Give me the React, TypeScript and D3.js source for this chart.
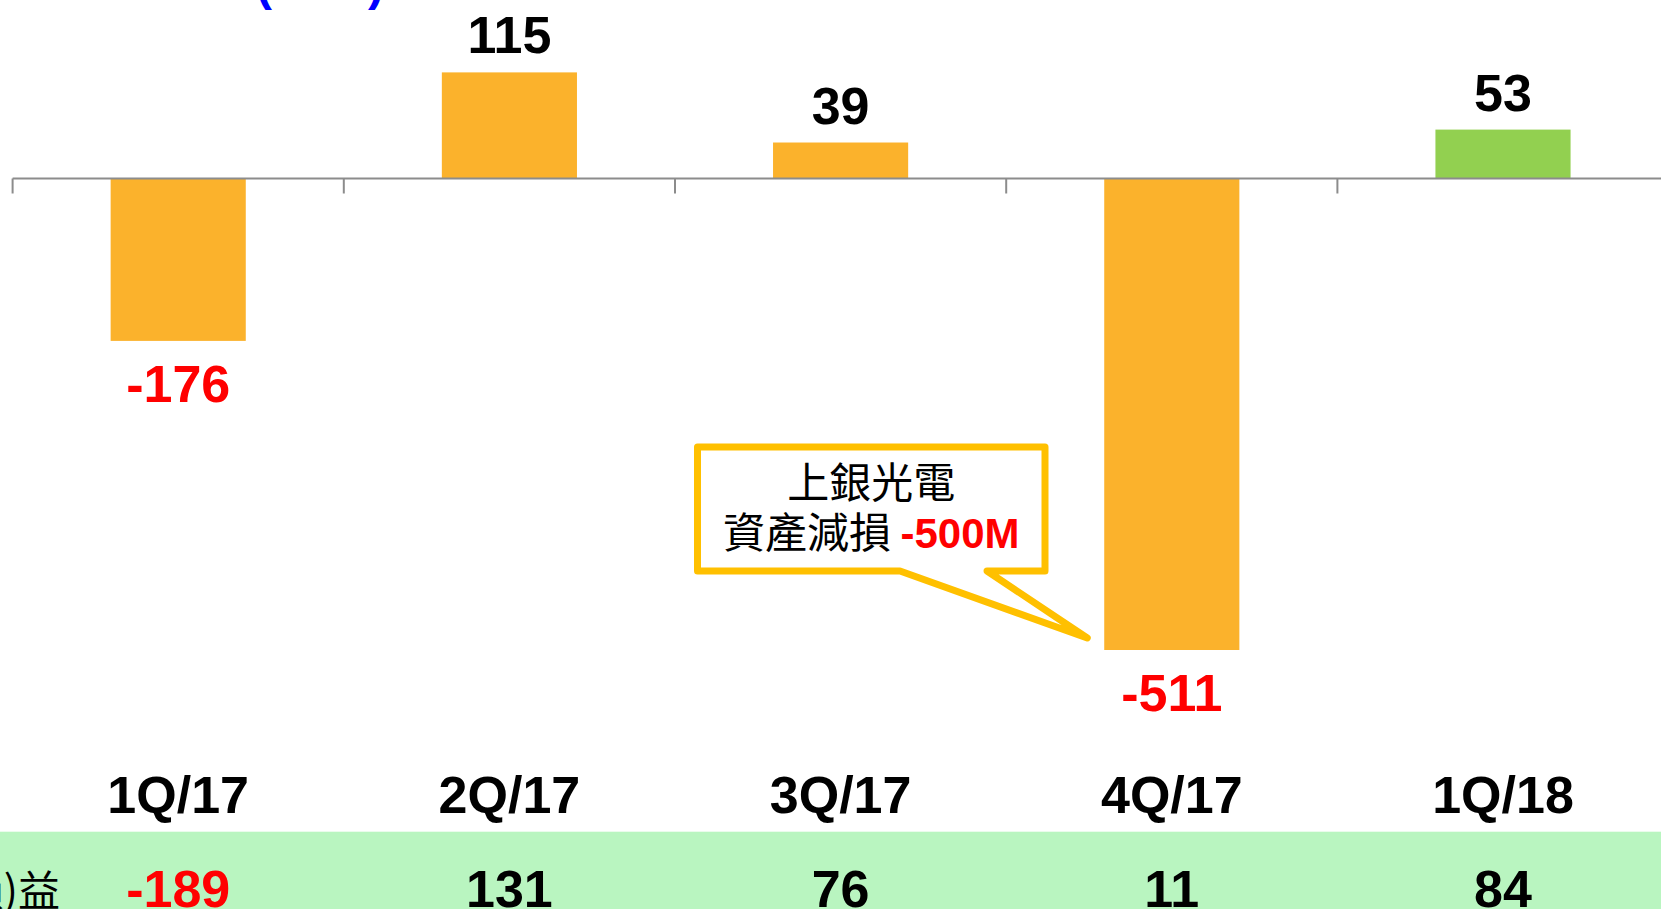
import React from "react";
import * as d3 from "d3";

const categories = ["1Q/17", "2Q/17", "3Q/17", "4Q/17", "1Q/18"];
const barValues = [-176, 115, 39, -511, 53];
const barColors = ["#FBB22C", "#FBB22C", "#FBB22C", "#FBB22C", "#92D050"];
const rowLabel = "本期淨利(損)益";
const rowValues = [-189, 131, 76, 11, 84];
const calloutLine1 = "上銀光電";
const calloutLine2a = "資產減損 ";
const calloutLine2b = "-500M";

const W = 1661;
const H = 909;
const LATIN = "'Liberation Sans', Arial, 'Noto Sans CJK TC', sans-serif";
const CJK = "'Noto Sans CJK TC', 'Noto Sans CJK SC', sans-serif";

export default function App() {
  const x = d3
    .scaleBand<string>()
    .domain(categories)
    .range([12.6, 12.6 + 331.2 * categories.length])
    .paddingInner(0.592)
    .paddingOuter(0.296);
  const y = d3.scaleLinear().domain([0, -511]).range([178.5, 650]);
  const bw = x.bandwidth();
  const half = (x.step() - bw) / 2;

  const i4 = 3;
  const bar4Left = x(categories[i4])!;
  const bar4Bottom = y(barValues[i4]);
  const tipX = bar4Left - 17;
  const tipY = bar4Bottom - 12;
  const bx0 = 697.5, bx1 = 1045, by0 = 447, by1 = 571;
  const calloutPath = `M${bx0},${by0} L${bx1},${by0} L${bx1},${by1} L${987},${by1} L${tipX},${tipY} L${900},${by1} L${bx0},${by1} Z`;
  const cx = (bx0 + bx1) / 2;

  return (
    <svg
      width={W}
      height={H}
      style={{ position: "absolute", left: 0, top: 0, display: "block", background: "#fff" }}
    >
      {/* title (mostly off-canvas) */}
      <text x={256} y={0} fill="#0000FF" fontFamily={LATIN} fontWeight="bold" fontSize={48}>
        (<tspan dy={-14}>百萬</tspan><tspan dy={14}>)</tspan>
      </text>

      {/* bars */}
      {barValues.map((v, i) => (
        <rect
          key={"b" + i}
          x={x(categories[i])}
          y={v >= 0 ? y(v) : y(0)}
          width={bw}
          height={Math.abs(y(v) - y(0))}
          fill={barColors[i]}
        />
      ))}

      {/* axis line and ticks */}
      <line x1={12.6} x2={W} y1={y(0)} y2={y(0)} stroke="#8C8C8C" strokeWidth={2} />
      {categories.map((c, i) => (
        <line
          key={"t" + i}
          x1={x(c)! - half}
          x2={x(c)! - half}
          y1={y(0)}
          y2={y(0) + 15}
          stroke="#8C8C8C"
          strokeWidth={2}
        />
      ))}

      {/* value labels */}
      {barValues.map((v, i) => (
        <text
          key={"v" + i}
          x={x(categories[i])! + bw / 2}
          y={v >= 0 ? y(v) - 19 : y(v) + 61}
          textAnchor="middle"
          fontFamily={LATIN}
          fontWeight="bold"
          fontSize={52}
          fill={v >= 0 ? "#000" : "#FF0000"}
        >
          {v}
        </text>
      ))}

      {/* callout */}
      <path d={calloutPath} fill="#fff" stroke="#FFC000" strokeWidth={7} strokeLinejoin="round" />
      <text x={cx} y={498} textAnchor="middle" fontFamily={CJK} fontSize={42} fill="#000">
        {calloutLine1}
      </text>
      <text x={cx} y={548} textAnchor="middle" fontFamily={CJK} fontSize={42} fill="#000">
        {calloutLine2a}
        <tspan fontFamily={LATIN} fontWeight="bold" fill="#FF0000">
          {calloutLine2b}
        </tspan>
      </text>

      {/* category labels */}
      {categories.map((c, i) => (
        <text
          key={"c" + i}
          x={x(c)! + bw / 2}
          y={813}
          textAnchor="middle"
          fontFamily={LATIN}
          fontWeight="bold"
          fontSize={52}
          fill="#000"
        >
          {c}
        </text>
      ))}

      {/* table row */}
      <rect x={0} y={831.7} width={W} height={H - 831.7} fill="#B9F5C0" />
      <text x={60} y={906} textAnchor="end" fontFamily={CJK} fontSize={42} fill="#000">
        {rowLabel}
      </text>
      {rowValues.map((v, i) => (
        <text
          key={"r" + i}
          x={x(categories[i])! + bw / 2}
          y={907}
          textAnchor="middle"
          fontFamily={LATIN}
          fontWeight="bold"
          fontSize={52}
          fill={v < 0 ? "#FF0000" : "#000"}
        >
          {v}
        </text>
      ))}
    </svg>
  );
}
